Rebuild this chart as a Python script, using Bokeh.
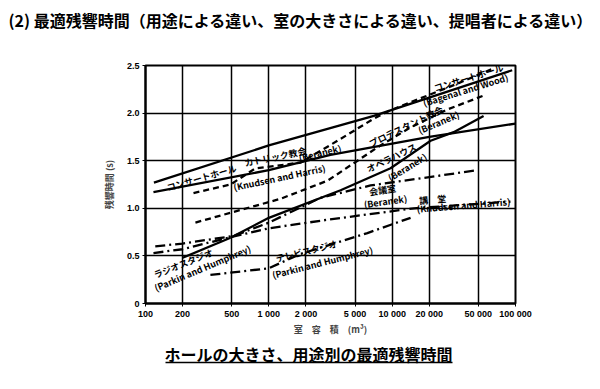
from bokeh.plotting import figure
from bokeh.models import FixedTicker, Label, Range1d, ColumnDataSource
from bokeh.layouts import column
from bokeh.embed import file_html
from bokeh.resources import INLINE
from bokeh.core.properties import value

JP = "Noto Sans CJK JP"

x_ticks = [100, 200, 500, 1000, 2000, 5000, 10000, 20000, 50000, 100000]
x_tick_labels = ["100", "200", "500", "1 000", "2 000", "5 000", "10 000", "20 000", "50 000", "100 000"]
y_ticks = [0, 0.5, 1.0, 1.5, 2.0, 2.5]
y_tick_labels = ["0", "0.5", "1.0", "1.5", "2.0", "2.5"]

# solid: concert hall (Bagenal and Wood)
concert_bw_x = [117, 1000, 7100, 94000]
concert_bw_y = [1.27, 1.66, 1.97, 2.45]
# solid: concert hall (Knudsen and Harris)
concert_kh_x = [116, 1000, 3160, 20000, 100000]
concert_kh_y = [1.17, 1.40, 1.56, 1.75, 1.89]
# dashed: catholic church (Beranek) / concert hall
catholic_x = [245, 489, 780, 1810, 3610, 7060, 9700, 33900, 66400]
catholic_y = [1.16, 1.25, 1.42, 1.48, 1.71, 1.94, 2.03, 2.31, 2.47]
# dashed: protestant church (Beranek)
protestant_x = [254, 1245, 2990, 5240, 7590, 14100, 27100, 54100]
protestant_y = [0.85, 1.10, 1.29, 1.50, 1.64, 1.85, 2.03, 2.18]
# solid: opera house (Beranek)
opera_x = [489, 1000, 3820, 9700, 20500, 31500, 55100]
opera_y = [0.69, 0.90, 1.19, 1.42, 1.71, 1.80, 1.97]
# solid: radio studio (Parkin and Humphrey)
radio_x = [200, 489]
radio_y = [0.48, 0.69]
# dash-dot: conference room (Beranek)
conference_x = [120, 200, 520, 1000, 2620, 6680, 49000]
conference_y = [0.60, 0.63, 0.71, 0.85, 1.11, 1.24, 1.40]
# dash-dot: auditorium (Knudsen and Harris)
auditorium_x = [116, 200, 500, 1000, 3000, 15000, 91000]
auditorium_y = [0.53, 0.57, 0.70, 0.79, 0.88, 1.00, 1.07]
# dash-dot: TV studio (Parkin and Humphrey)
tv_x = [336, 1000, 1800, 6300, 14100]
tv_y = [0.30, 0.37, 0.52, 0.74, 0.90]

# curve labels
lab_text = ["コンサートホール", "カトリック教会", "(Beranek)", "(Knudsen and Harris)",
            "コンサートホール", "(Bagenal and Wood)", "プロテスタント教会", "(Beranek)",
            "オペラハウス", "(Beranek)", "会議室", "(Beranek)", "講　堂", "(Knudsen and Harris)",
            "テレビスタジオ", "(Parkin and Humphrey)", "ラジオスタジオ", "(Parkin and Humphrey)"]
lab_x = [285, 1130, 2600, 1220, 41700, 39400, 13000, 23800, 9900, 13300, 8360, 8830, 21300, 37900,
         2020, 2720, 203, 290]
lab_y = [1.32, 1.54, 1.58, 1.32, 2.37, 2.24, 1.86, 1.90, 1.53, 1.43, 1.19, 1.07, 1.09, 1.03,
         0.55, 0.43, 0.42, 0.37]
lab_angle = [0.28, 0.20, 0.24, 0.21, 0.30, 0.30, 0.45, 0.40, 0.45, 0.55, 0.15, 0.14, 0.08, 0.08,
             0.25, 0.25, 0.38, 0.40]

TITLE = "(2) 最適残響時間（用途による違い、室の大きさによる違い、提唱者による違い）"
CAPTION = "ホールの大きさ、用途別の最適残響時間"

# ---- title strip (frame gets aligned with the chart frame by the column) ----
head = figure(width=600, height=40, x_range=Range1d(145, 515), y_range=Range1d(0, 1),
              title=TITLE, output_backend="svg", toolbar_location=None,
              min_border_left=145, min_border_right=85, min_border_top=31, min_border_bottom=0,
              outline_line_color=None)
head.axis.visible = False
head.grid.visible = False
head.title.align = "left"
head.title.offset = -137
head.title.standoff = 0
head.title.text_font = JP
head.title.text_font_style = "bold"
head.title.text_font_size = "16px"
head.title.text_color = "black"

# ---- main chart ----
p = figure(width=600, height=300, x_axis_type="log",
           x_range=Range1d(100, 100000), y_range=Range1d(0, 2.5),
           output_backend="svg", toolbar_location=None,
           min_border_left=145, min_border_right=85, min_border_top=25, min_border_bottom=37)
p.background_fill_color = "white"
p.border_fill_color = "white"
p.outline_line_color = "black"
p.outline_line_width = 2

p.xaxis.ticker = FixedTicker(ticks=x_ticks)
p.xaxis.major_label_overrides = {t: l for t, l in zip(x_ticks, x_tick_labels)}
p.yaxis.ticker = FixedTicker(ticks=y_ticks)
p.yaxis.major_label_overrides = {t: l for t, l in zip(y_ticks, y_tick_labels)}
p.xaxis.minor_tick_line_color = None
p.yaxis.minor_tick_line_color = None
for ax in (p.xaxis, p.yaxis):
    ax.axis_line_color = "black"
    ax.axis_line_width = 2
    ax.major_tick_line_color = "black"
    ax.major_tick_in = 0
    ax.major_tick_out = 3
    ax.major_label_text_font = "Liberation Sans"
    ax.major_label_text_font_style = "bold"
    ax.major_label_text_font_size = "9px"
    ax.major_label_text_color = "black"
p.xaxis.major_label_standoff = 2
p.yaxis.major_label_standoff = 3
p.yaxis.axis_label = "残響時間 (s)"
p.yaxis.axis_label_text_font = JP
p.yaxis.axis_label_text_font_style = "bold"
p.yaxis.axis_label_text_font_size = "9px"
p.yaxis.axis_label_standoff = 8
p.xaxis.axis_label = "室\u3000容\u3000積\u3000(m³)"
p.xaxis.axis_label_text_font = JP
p.xaxis.axis_label_text_font_style = "bold"
p.xaxis.axis_label_text_font_size = "9px"
p.xaxis.axis_label_standoff = 1

p.xgrid.grid_line_color = "black"
p.ygrid.grid_line_color = "black"
p.xgrid.grid_line_width = 1.5
p.ygrid.grid_line_width = 1.5
p.xgrid.ticker = FixedTicker(ticks=x_ticks)
p.ygrid.ticker = FixedTicker(ticks=y_ticks)

solid = dict(line_color="black", line_width=2.3)
dashed = dict(line_color="black", line_width=2.3, line_dash="6 4")
dashdot = dict(line_color="black", line_width=2.3, line_dash="10 4 2 4")

p.line(concert_bw_x, concert_bw_y, **solid)
p.line(concert_kh_x, concert_kh_y, **solid)
p.line(catholic_x, catholic_y, **dashed)
p.line(protestant_x, protestant_y, **dashed)
p.line(opera_x, opera_y, **solid)
p.line(radio_x, radio_y, **solid)
p.line(conference_x, conference_y, **dashdot)
p.line(auditorium_x, auditorium_y, **dashdot)
p.line(tv_x, tv_y, **dashdot)

src = ColumnDataSource(dict(x=lab_x, y=lab_y, t=lab_text, a=lab_angle))
p.text(x="x", y="y", text="t", angle="a", source=src, text_font=value(JP),
       text_font_style="bold", text_font_size="9px", text_align="center",
       text_baseline="middle", text_color="black")

# ---- caption strip (x data units equal page pixels: frame aligned to 145..515) ----
cap = figure(width=600, height=49, x_range=Range1d(145, 515), y_range=Range1d(49, 0),
             output_backend="svg", toolbar_location=None,
             min_border_left=145, min_border_right=85, min_border_top=0, min_border_bottom=0,
             outline_line_color=None)
cap.axis.visible = False
cap.grid.visible = False
cap.add_layout(Label(x=308, y=13, text=CAPTION,
                     text_font=JP, text_font_style="bold", text_font_size="16px",
                     text_align="center", text_baseline="middle", text_color="black"))
cap.line([165, 452], [22, 22], line_color="black", line_width=1.5)

layout = column(head, p, cap, spacing=0)
open("out.html", "w").write(file_html(layout, INLINE))
